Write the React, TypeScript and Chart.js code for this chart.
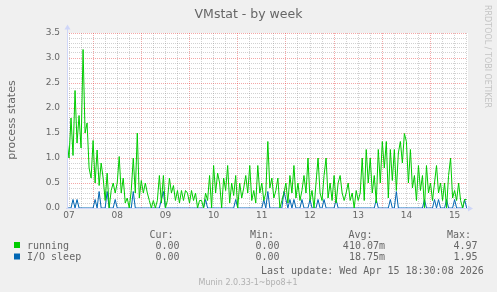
import React, { useEffect, useRef } from "react";
import { Chart, registerables } from "chart.js";

Chart.register(...registerables);

// ---- text ----
const chartTitle = "VMstat - by week";
const yAxisLabel = "process states";
const watermarkText = "RRDTOOL / TOBI OETIKER";
const versionText = "Munin 2.0.33-1~bpo8+1";
const lastUpdateText = "Last update: Wed Apr 15 18:30:08 2026";

// ---- axes ----
const startDay = 6.958; // plot starts here (day-of-month units)
const endDay = 15.257;
const stepDays = 1 / 24; // one sample per hour
const dayTicks = [7, 8, 9, 10, 11, 12, 13, 14, 15];
const dayLabels = ["07", "08", "09", "10", "11", "12", "13", "14", "15"];
const yMin = 0;
const yMax = 3.5;

// ---- series ----
const seriesNames = ["running", "I/O sleep"];
const seriesColors = ["#00CC00", "#0066B3"];

const runningValues = [
  1.35, 1.0, 1.8, 1.05, 2.35, 1.3, 1.85, 1.2, 3.17, 1.5,
  1.7, 0.8, 0.6, 1.35, 0.5, 1.16, 0.45, 0.9, 0.6, 0.15,
  0.7, 0.0, 0.35, 0.5, 0.3, 0.5, 1.03, 0.3, 0.6, 0.1,
  0.2, 0.0, 0.35, 1.0, 0.3, 1.5, 0.2, 0.55, 0.3, 0.5,
  0.3, 0.15, 0.0, 0.15, 0.0, 0.15, 0.65, 0.1, 0.65, 0.0,
  0.15, 0.6, 0.3, 0.45, 0.15, 0.35, 0.1, 0.35, 0.15, 0.35,
  0.3, 0.1, 0.35, 0.15, 0.3, 0.0, 0.15, 0.15, 0.0, 0.3,
  0.15, 0.65, 0.0, 0.85, 0.3, 0.7, 0.5, 0.0, 0.6, 0.35,
  0.85, 0.1, 0.5, 0.25, 0.65, 0.0, 0.5, 0.2, 0.4, 0.65,
  0.3, 0.85, 0.15, 0.35, 0.1, 0.85, 0.3, 0.5, 0.15, 0.3,
  1.33, 0.4, 0.6, 0.2, 0.35, 0.6, 0.0, 0.15, 0.3, 0.5,
  0.1, 0.65, 0.3, 0.85, 0.2, 0.5, 0.15, 0.35, 0.65, 0.3,
  1.0, 0.15, 0.35, 0.0, 0.5, 1.0, 0.3, 0.15, 0.65, 1.0,
  0.2, 0.5, 0.15, 0.65, 0.1, 0.5, 0.65, 0.3, 0.15, 0.3,
  0.5, 0.15, 0.3, 0.0, 0.35, 0.15, 0.3, 1.0, 0.15, 1.17,
  0.5, 1.0, 0.3, 0.65, 0.1, 1.17, 0.5, 1.33, 0.8, 1.33,
  0.2, 1.17, 0.55, 1.17, 0.35, 1.1, 1.33, 0.9, 1.49, 1.33,
  0.5, 1.17, 0.4, 0.65, 0.15, 0.85, 0.35, 0.65, 0.0, 0.85,
  0.3, 0.5, 0.15, 0.5, 0.85, 0.3, 0.5, 0.15, 0.5, 0.0,
  0.65, 1.0, 0.2, 0.35, 0.15, 0.5, 0.15, 0.0, 0.17, 0.17,
];

const ioSleepValues = [
  0, 0, 0, 0.17, 0, 0.17, 0, 0, 0, 0, 0, 0, 0, 0, 0.17, 0, 0.33, 0, 0, 0,
  0.33, 0, 0, 0, 0.17, 0, 0, 0, 0, 0, 0, 0, 0, 0.33, 0, 0, 0, 0, 0, 0,
  0, 0, 0, 0, 0, 0, 0, 0.17, 0.33, 0, 0, 0, 0, 0, 0, 0, 0, 0, 0, 0,
  0, 0, 0, 0, 0, 0, 0, 0, 0, 0.17, 0, 0, 0, 0, 0, 0, 0, 0, 0, 0,
  0, 0, 0, 0, 0.17, 0, 0, 0, 0, 0, 0, 0, 0, 0, 0, 0, 0, 0, 0.17, 0,
  0.33, 0, 0, 0, 0, 0, 0, 0, 0.33, 0.17, 0, 0.17, 0, 0.17, 0, 0, 0, 0.17, 0, 0,
  0, 0.17, 0, 0, 0, 0.17, 0, 0, 0.17, 0, 0, 0, 0, 0, 0.17, 0, 0, 0, 0, 0,
  0, 0, 0, 0, 0, 0, 0, 0, 0, 0, 0, 0, 0, 0, 0.17, 0, 0, 0, 0, 0,
  0, 0.17, 0, 0, 0.33, 0, 0, 0, 0, 0, 0, 0, 0, 0, 0, 0, 0, 0, 0.17, 0,
  0, 0, 0, 0.17, 0, 0.17, 0, 0, 0, 0.17, 0, 0, 0, 0.17, 0, 0, 0, 0, 0.17, 0,
];

// ---- legend table ----
const legendHeaders = ["Cur:", "Min:", "Avg:", "Max:"];
const runningStats = ["0.00", "0.00", "410.07m", "4.97"];
const ioSleepStats = ["0.00", "0.00", "18.75m", "1.95"];

const FONT_COLOR = "#666666";
const AXIS_COLOR = "#CFD6F8";
const MINOR_GRID = "rgba(140,140,140,0.4)";
const MAJOR_GRID = "rgba(230,60,60,0.45)";

export default function App() {
  const ref = useRef<HTMLCanvasElement | null>(null);

  useEffect(() => {
    const canvas = ref.current;
    if (!canvas) return;

    const bgPlugin = {
      id: "muninBg",
      beforeDraw(chart: any) {
        const { ctx, chartArea: a } = chart;
        ctx.save();
        ctx.fillStyle = "#F0F0F0";
        ctx.fillRect(0, 0, chart.width, chart.height);
        ctx.fillStyle = "#FFFFFF";
        ctx.fillRect(a.left, a.top, a.right - a.left + 1, a.bottom - a.top + 1);
        ctx.restore();
      },
    };

    const overlayPlugin = {
      id: "muninOverlay",
      afterDraw(chart: any) {
        const { ctx, chartArea: a } = chart;
        ctx.save();
        // axes
        ctx.strokeStyle = AXIS_COLOR;
        ctx.fillStyle = AXIS_COLOR;
        ctx.lineWidth = 1;
        ctx.beginPath();
        ctx.moveTo(a.left + 0.5, a.bottom + 1);
        ctx.lineTo(a.left + 0.5, a.top - 4);
        ctx.moveTo(a.left - 1, a.bottom + 0.5);
        ctx.lineTo(a.right + 1, a.bottom + 0.5);
        ctx.stroke();
        ctx.beginPath();
        ctx.moveTo(a.left - 2.5, a.top - 3.5);
        ctx.lineTo(a.left + 3.5, a.top - 3.5);
        ctx.lineTo(a.left + 0.5, a.top - 8.5);
        ctx.closePath();
        ctx.fill();
        ctx.beginPath();
        ctx.moveTo(a.right + 1, a.bottom - 2.5);
        ctx.lineTo(a.right + 1, a.bottom + 3.5);
        ctx.lineTo(a.right + 6, a.bottom + 0.5);
        ctx.closePath();
        ctx.fill();

        // title
        ctx.fillStyle = FONT_COLOR;
        ctx.font = "12.5px 'DejaVu Sans'";
        ctx.textAlign = "center";
        ctx.textBaseline = "alphabetic";
        ctx.fillText(chartTitle, 248.5, 18);

        // y axis label
        ctx.save();
        ctx.translate(14.5, 120);
        ctx.rotate(-Math.PI / 2);
        ctx.font = "11px 'DejaVu Sans'";
        ctx.textAlign = "center";
        ctx.fillText(yAxisLabel, 0, 0);
        ctx.restore();

        // watermark (vertical)
        ctx.save();
        ctx.translate(485, 5);
        ctx.rotate(Math.PI / 2);
        ctx.font = "8px 'DejaVu Sans'";
        ctx.fillStyle = "#C4C4C4";
        ctx.textAlign = "left";
        ctx.fillText(watermarkText, 0, 0);
        ctx.restore();

        // legend
        ctx.font = "10px 'DejaVu Sans Mono'";
        ctx.fillStyle = FONT_COLOR;
        ctx.textAlign = "left";
        const headerX = [149.5, 250, 348.5, 447];
        legendHeaders.forEach((h, i) => ctx.fillText(h, headerX[i], 237.5));

        const rows = [
          { name: seriesNames[0], color: seriesColors[0], stats: runningStats, y: 248.5, box: 242 },
          { name: seriesNames[1], color: seriesColors[1], stats: ioSleepStats, y: 260, box: 253.5 },
        ];
        const valueRight = [179.5, 279.5, 385, 477.5];
        rows.forEach((r) => {
          ctx.fillStyle = r.color;
          ctx.fillRect(14, r.box, 6, 6);
          ctx.fillStyle = FONT_COLOR;
          ctx.textAlign = "left";
          ctx.fillText(r.name, 27, r.y);
          ctx.textAlign = "right";
          r.stats.forEach((s, i) => ctx.fillText(s, valueRight[i], r.y));
        });
        ctx.textAlign = "left";
        ctx.fillText(lastUpdateText, 261, 273.5);

        // version
        ctx.font = "8px 'DejaVu Sans'";
        ctx.fillStyle = "#B0B0B0";
        ctx.textAlign = "center";
        ctx.fillText(versionText, 248, 284.5);
        ctx.restore();
      },
    };

    const toPoints = (vals: number[]) =>
      vals.map((v, i) => ({ x: startDay + i * stepDays, y: v }));

    const chart = new Chart(canvas, {
      type: "line",
      data: {
        datasets: [
          {
            label: seriesNames[0],
            data: toPoints(runningValues),
            borderColor: seriesColors[0],
            borderWidth: 1,
            pointRadius: 0,
            fill: false,
            tension: 0,
          },
          {
            label: seriesNames[1],
            data: toPoints(ioSleepValues),
            borderColor: seriesColors[1],
            borderWidth: 1,
            pointRadius: 0,
            fill: false,
            tension: 0,
          },
        ],
      },
      options: {
        animation: false,
        responsive: false,
        devicePixelRatio: 1,
        events: [],
        layout: { padding: { left: 0, top: 33, right: 30, bottom: 0 } },
        plugins: {
          legend: { display: false },
          title: { display: false },
          tooltip: { enabled: false },
        },
        scales: {
          x: {
            type: "linear",
            min: startDay,
            max: endDay,
            afterBuildTicks: (s: any) => {
              const t = [];
              for (let k = Math.ceil(startDay * 4); k <= Math.floor(endDay * 4); k++) t.push({ value: k / 4 });
              s.ticks = t;
            },
            afterFit: (s: any) => {
              s.height = 84;
            },
            ticks: {
              autoSkip: false,
              maxRotation: 0,
              minRotation: 0,
              padding: 2,
              color: FONT_COLOR,
              font: { family: "DejaVu Sans", size: 9 },
              callback: (v: any) => {
                const idx = dayTicks.indexOf(Number(v));
                return idx >= 0 ? dayLabels[idx] : "";
              },
            },
            grid: {
              drawTicks: false,
              lineWidth: 1,
              color: (c: any) => {
                if (!c.tick) return MINOR_GRID;
                const q = Math.round(c.tick.value * 4) % 4;
                return q === 2 ? MAJOR_GRID : MINOR_GRID;
              },
            },
            border: { display: false, dash: [1, 1] },
          },
          y: {
            type: "linear",
            min: yMin,
            max: yMax,
            afterBuildTicks: (s: any) => {
              const t = [];
              for (let k = 0; k <= Math.round(yMax * 10); k++) t.push({ value: k / 10 });
              s.ticks = t;
            },
            afterFit: (s: any) => {
              s.width = 67;
            },
            ticks: {
              autoSkip: false,
              padding: 7,
              color: FONT_COLOR,
              font: { family: "DejaVu Sans", size: 9 },
              callback: (v: any) => {
                const n = Number(v);
                return Math.round(n * 10) % 5 === 0 ? n.toFixed(1) : "";
              },
            },
            grid: {
              drawTicks: false,
              lineWidth: 1,
              color: (c: any) => {
                if (!c.tick) return MINOR_GRID;
                return Math.round(c.tick.value * 10) % 5 === 0 ? MAJOR_GRID : MINOR_GRID;
              },
            },
            border: { display: false, dash: [1, 1] },
          },
        },
      },
      plugins: [bgPlugin, overlayPlugin],
    } as any);

    return () => chart.destroy();
  }, []);

  return (
    <div style={{ position: "fixed", left: 0, top: 0, width: 497, height: 292, background: "#F0F0F0" }}>
      <canvas ref={ref} width={497} height={292} style={{ display: "block", width: 497, height: 292 }} />
    </div>
  );
}
